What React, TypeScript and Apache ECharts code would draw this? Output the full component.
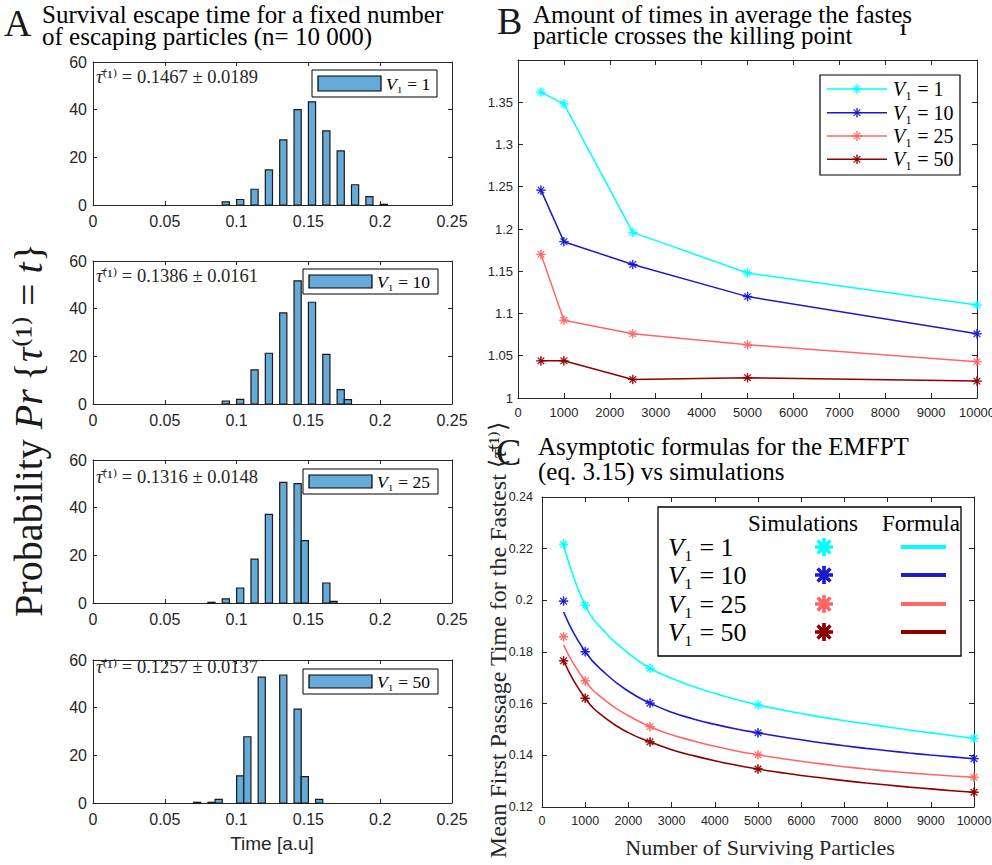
import React, { useEffect, useRef } from "react";
import * as echarts from "echarts";

// ---------- DATA ----------
const histBinWidth = 0.005;
const hist1Edges = [0.09, 0.1, 0.11, 0.12, 0.13, 0.14, 0.15, 0.16, 0.17, 0.18, 0.19, 0.2];
const hist1Values = [1.3, 2.3, 6.6, 14.7, 27.3, 40, 43.3, 31.1, 22.7, 8.5, 3.5, 0.3];
const hist2Edges = [0.09, 0.1, 0.11, 0.12, 0.13, 0.14, 0.15, 0.16, 0.17, 0.175];
const hist2Values = [1.25, 1.9, 14.3, 21.3, 38.2, 51.7, 42.7, 20.8, 6.0, 1.8];
const hist3Edges = [0.08, 0.09, 0.1, 0.11, 0.12, 0.13, 0.14, 0.145, 0.16, 0.165];
const hist3Values = [0.3, 1.7, 6.3, 18.4, 37.2, 50.6, 50.1, 26.2, 8.4, 0.7];
const hist4Edges = [0.07, 0.08, 0.085, 0.1, 0.105, 0.115, 0.13, 0.14, 0.145, 0.155];
const hist4Values = [0.3, 0.3, 1.5, 11.4, 27.8, 52.8, 53.7, 39.4, 11.1, 1.5];
const histMeans = ["0.1467", "0.1386", "0.1316", "0.1257"];
const histStds = ["0.0189", "0.0161", "0.0148", "0.0137"];
const v1Values = ["1", "10", "25", "50"];

const bParticles = [500, 1000, 2500, 5000, 10000];
const bCyan = [1.362, 1.348, 1.196, 1.148, 1.11];
const bBlue = [1.246, 1.185, 1.158, 1.12, 1.076];
const bSalmon = [1.17, 1.092, 1.076, 1.063, 1.043];
const bDarkRed = [1.044, 1.044, 1.022, 1.024, 1.02];

const cSimN = [500, 1000, 2500, 5000, 10000];
const cSimCyan = [0.2217, 0.1981, 0.1737, 0.1595, 0.1466];
const cSimBlue = [0.1997, 0.1801, 0.1602, 0.1487, 0.1387];
const cSimSalmon = [0.1859, 0.1688, 0.1511, 0.1402, 0.1315];
const cSimDarkRed = [0.1766, 0.1621, 0.1452, 0.1347, 0.1257];

const cFormN = [500, 1000, 1500, 2000, 2500, 3000, 3500, 4000, 4500, 5000, 5500, 6000, 6500, 7000, 7500, 8000, 8500, 9000, 9500, 10000];
const cFormCyan = [0.2217, 0.1981, 0.187, 0.1795, 0.1737, 0.1698, 0.1666, 0.164, 0.1616, 0.1595, 0.1578, 0.1562, 0.1547, 0.1534, 0.1522, 0.151, 0.1498, 0.1487, 0.1476, 0.1466];
const cFormBlue = [0.1955, 0.1801, 0.1712, 0.1648, 0.1602, 0.1567, 0.1541, 0.152, 0.1502, 0.1487, 0.1473, 0.146, 0.1448, 0.1437, 0.1427, 0.1418, 0.1409, 0.1401, 0.1394, 0.1387];
const cFormSalmon = [0.1827, 0.1688, 0.1608, 0.1553, 0.1511, 0.148, 0.1456, 0.1435, 0.1417, 0.1402, 0.1389, 0.1377, 0.1366, 0.1356, 0.1347, 0.1339, 0.1332, 0.1326, 0.132, 0.1315];
const cFormDarkRed = [0.1766, 0.1621, 0.154, 0.1488, 0.1452, 0.1422, 0.1399, 0.1379, 0.1362, 0.1347, 0.1334, 0.1322, 0.1312, 0.1302, 0.1293, 0.1285, 0.1277, 0.127, 0.1263, 0.1257];

// ---------- STYLE ----------
const SANS = "'Liberation Sans', Arial, Helvetica, sans-serif";
const SERIF = "'Liberation Serif', 'Times New Roman', 'DejaVu Serif', serif";
const AX = "#262626";
const HIST_FILL = "#66aad7";
const COLORS = ["#00ffff", "#1a1acc", "#ff6666", "#8c0000"];

const ASTER_THIN =
  "M-0.9,-10L0.9,-10L0.9,10L-0.9,10Z M-10,-0.9L10,-0.9L10,0.9L-10,0.9Z M-6.4,-7.6L7.6,6.4L6.4,7.6L-7.6,-6.4Z M-7.6,6.4L6.4,-7.6L7.6,-6.4L-6.4,7.6Z";
const ASTER_THICK =
  "M-2,-10L2,-10L2,10L-2,10Z M-10,-2L10,-2L10,2L-10,2Z M-5.7,-8.5L8.5,5.7L5.7,8.5L-8.5,-5.7Z M-8.5,5.7L5.7,-8.5L8.5,-5.7L-5.7,8.5Z";

let registered = false;
function registerShapes() {
  if (registered) return;
  registered = true;
  echarts.graphic.registerShape("asterThin", echarts.graphic.extendPath(ASTER_THIN, {}));
  echarts.graphic.registerShape("asterThick", echarts.graphic.extendPath(ASTER_THICK, {}));
}

type AxRange = { min: number; max: number; interval: number };

function makeAxes(g: number, xr: AxRange, yr: AxRange, fs: number, tick: number, xMargin: number, yMargin: number, hideYMax = false) {
  const line = { show: true, onZero: false, lineStyle: { color: AX, width: 1 } };
  const tk = { show: true, inside: true, length: tick, lineStyle: { color: AX, width: 1 } };
  const lbl = { color: AX, fontFamily: SANS, fontSize: fs, formatter: (v: number) => String(Math.round(v * 10000) / 10000) };
  const xs = [
    { type: "value", gridIndex: g, position: "bottom", ...xr, axisLine: line, axisTick: tk, axisLabel: { ...lbl, margin: xMargin }, splitLine: { show: false } },
    { type: "value", gridIndex: g, position: "top", ...xr, axisLine: line, axisTick: tk, axisLabel: { show: false }, splitLine: { show: false } },
  ];
  const ys = [
    { type: "value", gridIndex: g, position: "left", ...yr, axisLine: line, axisTick: tk, axisLabel: { ...lbl, margin: yMargin, showMaxLabel: !hideYMax }, splitLine: { show: false } },
    { type: "value", gridIndex: g, position: "right", ...yr, axisLine: line, axisTick: tk, axisLabel: { show: false }, splitLine: { show: false } },
  ];
  return { xs, ys };
}

function vLabel(v: string, fs: number, x: number, y: number, color = "#000") {
  return {
    type: "text",
    x,
    y,
    style: {
      text: `{i|V}₁ = ${v}`,
      fontFamily: SERIF,
      fontSize: fs,
      fill: color,
      verticalAlign: "middle",
      rich: { i: { fontFamily: SERIF, fontStyle: "italic", fontSize: fs, fill: color } },
    },
  };
}

function buildOption() {
  const grids: any[] = [];
  const xAxes: any[] = [];
  const yAxes: any[] = [];
  const series: any[] = [];
  const graphic: any[] = [];

  const histTops = [62, 261, 460, 660];
  const histEdges = [hist1Edges, hist2Edges, hist3Edges, hist4Edges];
  const histVals = [hist1Values, hist2Values, hist3Values, hist4Values];
  const annotY = [77, 276, 477, 667];
  const legTop = [70, 269, 469, 669];

  histTops.forEach((top, g) => {
    grids.push({ left: 93, top, width: 359, height: 143, outerBoundsMode: "none" });
    const a = makeAxes(g, { min: 0, max: 0.25, interval: 0.05 }, { min: 0, max: 60, interval: 20 }, 16, 4, 8, 6);
    xAxes.push(...a.xs);
    yAxes.push(...a.ys);
    series.push({
      type: "custom",
      xAxisIndex: 2 * g,
      yAxisIndex: 2 * g,
      data: histEdges[g].map((e, i) => [e, e + histBinWidth, histVals[g][i]]),
      encode: { x: [0, 1], y: 2 },
      renderItem: (_p: any, api: any) => {
        const p0 = api.coord([api.value(0), api.value(2)]);
        const p1 = api.coord([api.value(1), 0]);
        return {
          type: "rect",
          shape: { x: p0[0], y: p0[1], width: p1[0] - p0[0], height: p1[1] - p0[1] },
          style: { fill: HIST_FILL, stroke: "#1a1a1a", lineWidth: 1.2 },
        };
      },
    });
    graphic.push({
      type: "text",
      x: 96,
      y: annotY[g],
      style: {
        text: `{i|τ\u0304}⁽¹⁾ = ${histMeans[g]} ± ${histStds[g]}`,
        fontFamily: SERIF,
        fontSize: 18.5,
        fill: AX,
        verticalAlign: "middle",
        rich: { i: { fontFamily: SERIF, fontStyle: "italic", fontSize: 18.5, fill: AX } },
      },
    });
    const wide = g > 0;
    const bx = wide ? 303 : 312;
    const bw = wide ? 135 : 125;
    const bh = wide ? 25 : 27;
    const by = legTop[g];
    graphic.push({ type: "rect", shape: { x: bx, y: by, width: bw, height: bh }, style: { fill: "#fff", stroke: "#000", lineWidth: 1 } });
    graphic.push({ type: "rect", shape: { x: bx + 6, y: by + 6, width: 63, height: bh - 12 }, style: { fill: HIST_FILL, stroke: "#000", lineWidth: 1.2 } });
    graphic.push(vLabel(v1Values[g], 17.5, bx + 74, by + bh / 2));
  });

  // ----- Panel B -----
  grids.push({ left: 518, top: 60, width: 459, height: 338, outerBoundsMode: "none" });
  const bA = makeAxes(4, { min: 0, max: 10000, interval: 1000 }, { min: 1, max: 1.4, interval: 0.05 }, 13, 5, 8, 5, true);
  xAxes.push(...bA.xs);
  yAxes.push(...bA.ys);
  const bSeries = [bCyan, bBlue, bSalmon, bDarkRed];
  bSeries.forEach((vals, i) => {
    series.push({
      type: "line",
      name: `B V1=${v1Values[i]}`,
      xAxisIndex: 8,
      yAxisIndex: 8,
      data: bParticles.map((x, k) => [x, vals[k]]),
      symbol: "path://" + ASTER_THIN,
      symbolSize: 9,
      lineStyle: { color: COLORS[i], width: 1.5 },
      itemStyle: { color: COLORS[i], borderColor: COLORS[i], borderWidth: 0.5 },
      z: 3,
    });
  });
  graphic.push({ type: "rect", shape: { x: 820, y: 75, width: 140, height: 100 }, style: { fill: "#fff", stroke: "#000", lineWidth: 1.2 } });
  [89, 112.7, 136, 159.3].forEach((yy, i) => {
    graphic.push({ type: "line", shape: { x1: 827, y1: yy, x2: 887, y2: yy }, style: { stroke: COLORS[i], lineWidth: 1.5 } });
    graphic.push({ type: "asterThin", x: 857, y: yy, scaleX: 0.45, scaleY: 0.45, style: { fill: COLORS[i], stroke: COLORS[i], lineWidth: 1 } });
    graphic.push(vLabel(v1Values[i], 20, 893, yy));
  });

  // ----- Panel C -----
  grids.push({ left: 542, top: 497, width: 432, height: 310, outerBoundsMode: "none" });
  const cA = makeAxes(5, { min: 0, max: 10000, interval: 1000 }, { min: 0.12, max: 0.24, interval: 0.02 }, 12.5, 5, 7, 9);
  xAxes.push(...cA.xs);
  yAxes.push(...cA.ys);
  const cForm = [cFormCyan, cFormBlue, cFormSalmon, cFormDarkRed];
  const cSim = [cSimCyan, cSimBlue, cSimSalmon, cSimDarkRed];
  cForm.forEach((vals, i) => {
    series.push({
      type: "line",
      name: `C formula V1=${v1Values[i]}`,
      xAxisIndex: 10,
      yAxisIndex: 10,
      data: cFormN.map((x, k) => [x, vals[k]]),
      showSymbol: false,
      symbol: "none",
      smooth: 0.5,
      lineStyle: { color: COLORS[i], width: 1.6 },
      z: 2,
    });
  });
  cSim.forEach((vals, i) => {
    series.push({
      type: "scatter",
      name: `C sim V1=${v1Values[i]}`,
      xAxisIndex: 10,
      yAxisIndex: 10,
      data: cSimN.map((x, k) => [x, vals[k]]),
      symbol: "path://" + ASTER_THIN,
      symbolSize: 9,
      itemStyle: { color: COLORS[i], borderColor: COLORS[i], borderWidth: 0.6, opacity: 1 },
      z: 4,
    });
  });
  graphic.push({ type: "rect", shape: { x: 658, y: 507, width: 303, height: 149 }, style: { fill: "#fff", stroke: "#000", lineWidth: 1.3 } });
  graphic.push({ type: "text", x: 803, y: 523, style: { text: "Simulations", fontFamily: SERIF, fontSize: 23, fill: "#000", align: "center", verticalAlign: "middle", lineHeight: 20 } });
  graphic.push({ type: "text", x: 921, y: 523, style: { text: "Formula", fontFamily: SERIF, fontSize: 23, fill: "#000", align: "center", verticalAlign: "middle", lineHeight: 20 } });
  [547, 575, 604, 632].forEach((yy, i) => {
    graphic.push(vLabel(v1Values[i], 26, 668, yy));
    graphic.push({ type: "asterThick", x: 824, y: yy, scaleX: 0.9, scaleY: 0.9, style: { fill: COLORS[i] } });
    graphic.push({ type: "line", shape: { x1: 901, y1: yy, x2: 946, y2: yy }, style: { stroke: COLORS[i], lineWidth: 4 } });
  });

  // ----- Titles and axis names -----
  const bigLetter = (t: string, x: number, y: number) => ({
    type: "text",
    x,
    y,
    style: { text: t, fontFamily: SERIF, fontSize: 38, lineHeight: 30, fill: "#1a1a1a", verticalAlign: "middle" },
  });
  const titleLine = (t: string, x: number, y: number) => ({
    type: "text",
    x,
    y,
    style: { text: t, fontFamily: SERIF, fontSize: 25, lineHeight: 20, fill: "#000", verticalAlign: "middle" },
  });
  graphic.push(bigLetter("A", 4, 23));
  graphic.push(titleLine("Survival escape time for a fixed number", 42, 14.5));
  graphic.push(titleLine("of escaping particles (n= 10 000)", 42, 36.5));
  graphic.push(bigLetter("B", 497, 21));
  graphic.push(titleLine("Amount of times in average the fastes", 533, 14));
  graphic.push(titleLine("particle crosses the killing point", 533, 35));
  graphic.push({ type: "text", x: 903, y: 29, style: { text: "1", fontFamily: SERIF, fontSize: 16, lineHeight: 12, fontWeight: "bold", fill: "#000", align: "center", verticalAlign: "middle" } });
  graphic.push({
    type: "text",
    x: 498,
    y: 640,
    rotation: Math.PI / 2,
    style: {
      text: "Mean First Passage Time for the Fastest \u27e8{i|τ\u0304}⁽¹⁾\u27e9",
      fontFamily: SERIF,
      fontSize: 24,
      fill: AX,
      align: "center",
      verticalAlign: "middle",
      rich: { i: { fontFamily: SERIF, fontStyle: "italic", fontSize: 24, fill: AX } },
    },
  });
  graphic.push(bigLetter("C", 496, 452));
  graphic.push(titleLine("Asymptotic formulas for the EMFPT", 538, 446));
  graphic.push(titleLine("(eq. 3.15) vs simulations", 538, 471));

  graphic.push({
    type: "text",
    x: 28,
    y: 430,
    rotation: Math.PI / 2,
    style: {
      text: "Probability {i|Pr}\u2009{{i|τ}⁽¹⁾ = {i|t}}",
      fontFamily: SERIF,
      fontSize: 40,
      fill: "#1a1a1a",
      align: "center",
      verticalAlign: "middle",
      rich: { i: { fontFamily: SERIF, fontStyle: "italic", fontSize: 40, fill: "#1a1a1a" } },
    },
  });
  graphic.push({ type: "text", x: 272, y: 843, style: { text: "Time [a.u]", fontFamily: SANS, fontSize: 19, fill: AX, align: "center", verticalAlign: "middle" } });
  graphic.push({ type: "text", x: 760, y: 847, style: { text: "Number of Surviving Particles", fontFamily: SERIF, fontSize: 22, fill: AX, align: "center", verticalAlign: "middle" } });

  return {
    animation: false,
    backgroundColor: "#ffffff",
    grid: grids,
    xAxis: xAxes,
    yAxis: yAxes,
    series,
    graphic: { elements: graphic },
  };
}

export default function App() {
  const ref = useRef<HTMLDivElement>(null);
  useEffect(() => {
    registerShapes();
    const chart = echarts.init(ref.current as HTMLDivElement, null, { renderer: "svg" });
    chart.setOption(buildOption() as any);
    return () => chart.dispose();
  }, []);
  return (
    <div
      ref={ref}
      style={{ position: "absolute", left: 0, top: 0, width: 992, height: 865, background: "#fff" }}
    />
  );
}
